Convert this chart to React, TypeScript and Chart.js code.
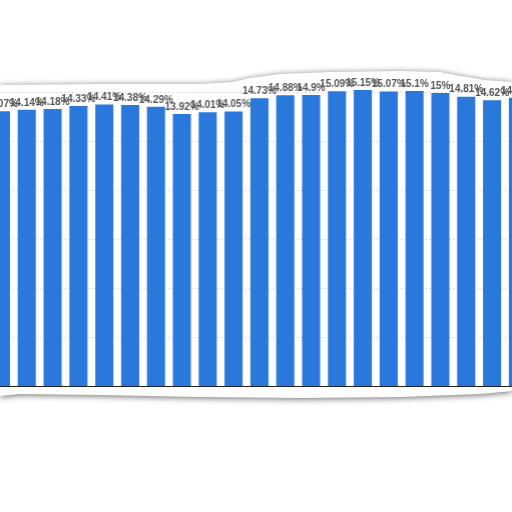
import Chart from "chart.js/auto";
import { useEffect, useRef } from "react";

const categories = [
  "1", "2", "3", "4", "5", "6", "7", "8", "9", "10", "11",
  "12", "13", "14", "15", "16", "17", "18", "19", "20", "21",
];
const shares = [
  14.07, 14.14, 14.18, 14.33, 14.41, 14.38, 14.29, 13.92, 14.01, 14.05, 14.73,
  14.88, 14.9, 15.09, 15.15, 15.07, 15.1, 15, 14.81, 14.62, 14.75,
];
const yTicks = { min: 0, max: 17.5, step: 2.5 };

const topEdge =
  "0px 85px, 100px 84px, 200px 84px, 232px 82px, 250px 78px, 280px 74px, 330px 72px, 400px 71px, 440px 72px, 460px 76px, 485px 80px, 512px 82px";
const bottomEdge =
  "512px 391px, 480px 394px, 400px 397px, 300px 398px, 200px 397px, 100px 395px, 20px 394px, 0px 396px";

const valueLabels = {
  id: "valueLabels",
  afterDatasetsDraw(chart: Chart) {
    const { ctx } = chart;
    const meta = chart.getDatasetMeta(0);
    ctx.save();
    ctx.font = "bold 10px 'Liberation Sans', Arial, sans-serif";
    ctx.fillStyle = "#555";
    ctx.textAlign = "center";
    ctx.textBaseline = "bottom";
    meta.data.forEach((bar, i) => {
      const v = shares[i];
      ctx.fillText(`${+v.toFixed(2)}%`, bar.x, bar.y - 2);
    });
    ctx.restore();
  },
};

function ShareChart() {
  const canvasRef = useRef<HTMLCanvasElement | null>(null);

  useEffect(() => {
    if (!canvasRef.current) return;

    const chart = new Chart(canvasRef.current, {
      type: "bar",
      data: {
        labels: categories,
        datasets: [
          {
            data: shares,
            backgroundColor: "#2b78dc",
            borderWidth: 0,
            barPercentage: 0.7,
            categoryPercentage: 1,
          },
        ],
      },
      options: {
        responsive: true,
        maintainAspectRatio: false,
        animation: false,
        layout: { padding: { left: 0, right: 0, top: 0, bottom: 2 } },
        plugins: {
          legend: { display: false },
          tooltip: { enabled: false },
        },
        scales: {
          x: {
            grid: { display: false },
            ticks: { display: false },
            border: { display: true, color: "#222", width: 1 },
            afterFit: (s) => {
              s.height = 0;
            },
          },
          y: {
            min: yTicks.min,
            max: yTicks.max,
            ticks: { display: false, stepSize: yTicks.step },
            grid: { color: "rgba(0,0,0,0.14)", drawTicks: false },
            border: { display: false, dash: [2, 2] },
            afterFit: (s) => {
              s.width = 0;
            },
          },
        },
      },
      plugins: [valueLabels],
    });

    return () => chart.destroy();
  }, []);

  return <canvas ref={canvasRef} />;
}

export default function App() {
  return (
    <div
      style={{
        position: "fixed",
        left: 0,
        top: 0,
        width: 512,
        height: 512,
        overflow: "hidden",
        background: "#fff",
      }}
    >
      <div
        style={{
          position: "absolute",
          inset: 0,
          filter: "drop-shadow(0px 1px 3px rgba(0,0,0,0.6))",
        }}
      >
        <div
          style={{
            position: "absolute",
            inset: 0,
            background: "#fff",
            clipPath: `polygon(${topEdge}, ${bottomEdge})`,
          }}
        >
          <div
            style={{
              position: "absolute",
              left: -11.7,
              top: 43.5,
              width: 541.8,
              height: 344.5,
            }}
          >
            <ShareChart />
          </div>
        </div>
      </div>
    </div>
  );
}
